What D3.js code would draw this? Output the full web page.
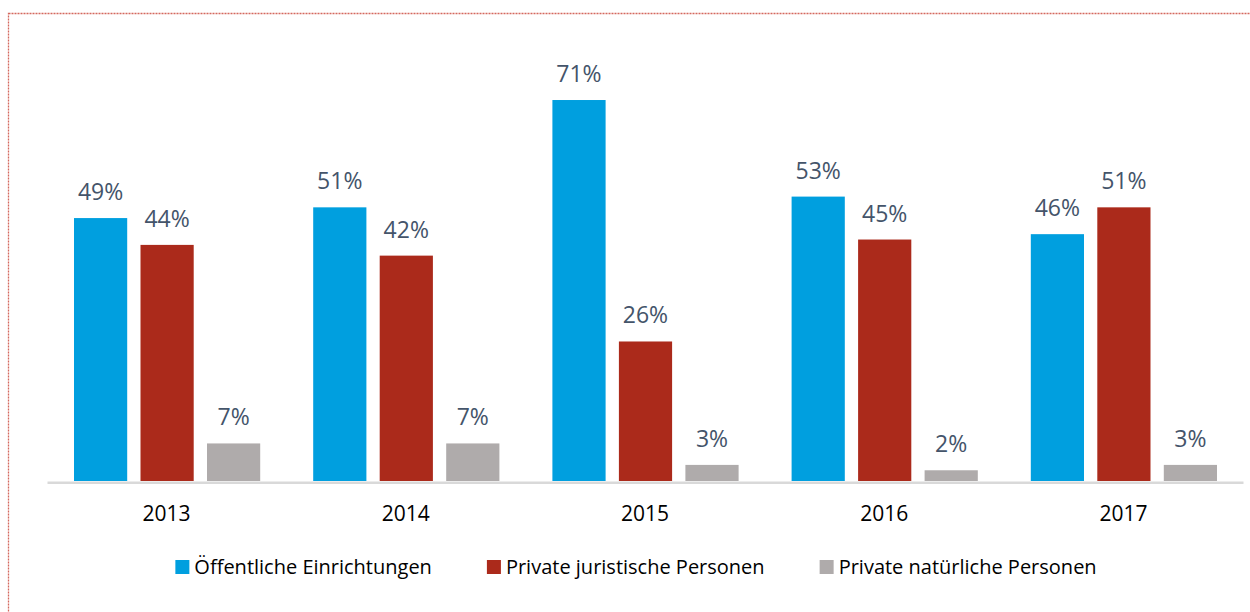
<!DOCTYPE html>
<html>
<head>
<meta charset="utf-8">
<script src="https://cdn.jsdelivr.net/npm/d3@7"></script>
<style>
  html, body { margin: 0; padding: 0; background: #fff; }
  svg { display: block; }
</style>
</head>
<body>
<div id="chart"></div>
<script>
// data
var years = ["2013", "2014", "2015", "2016", "2017"]
var seriesNames = ["Öffentliche Einrichtungen", "Private juristische Personen", "Private natürliche Personen"]
var oeffentlich = [49, 51, 71, 53, 46]
var juristisch = [44, 42, 26, 45, 51]
var natuerlich = [7, 7, 3, 2, 3]
var seriesColors = ["#009fdf", "#ab2a1b", "#afabab"]

var svgWidth = 1250
var svgHeight = 612
var margin = { top: 51, right: 7, bottom: 131, left: 47 }
var width = svgWidth - margin.left - margin.right
var height = svgHeight - margin.top - margin.bottom

var series = [oeffentlich, juristisch, natuerlich]
var data = years.map(function(y, i) {
    return { year: y, values: series.map(function(s, k) { return { key: k, value: s[i] } }) }
})

var svg = d3.select("#chart").append("svg")
    .attr("width", svgWidth)
    .attr("height", svgHeight)
    .style("font-family", "'Open Sans', sans-serif")

// dotted frame
svg.append("rect")
    .attr("x", 8.5).attr("y", 13.5)
    .attr("width", 1300).attr("height", 700)
    .attr("fill", "none")
    .attr("stroke", "#d4685e")
    .attr("stroke-width", 1.3)
    .attr("stroke-dasharray", "2,1")

var chart = svg.append("g")
    .attr("transform", "translate(" + margin.left + "," + margin.top + ")")

var x0 = d3.scaleBand()
    .range([0, width])
    .domain(years)
    .padding(0)

var x1 = d3.scaleBand()
    .domain([0, 1, 2])
    .range([27, x0.bandwidth() - 26])
    .paddingInner(0.2)

var y = d3.scaleLinear()
    .domain([0, 80])
    .range([height, height - 80 * 5.366])

var groups = chart.selectAll("g.group").data(data)
    .enter().append("g").attr("class", "group")
    .attr("transform", function(d) { return "translate(" + x0(d.year) + ",0)" })

groups.selectAll("rect").data(function(d) { return d.values })
    .enter().append("rect")
    .attr("x", function(d) { return x1(d.key) })
    .attr("width", x1.bandwidth())
    .attr("y", function(d) { return y(d.value) })
    .attr("height", function(d) { return height - y(d.value) })
    .attr("fill", function(d) { return seriesColors[d.key] })

groups.selectAll("text.label").data(function(d) { return d.values })
    .enter().append("text").attr("class", "label")
    .attr("x", function(d) { return x1(d.key) + x1.bandwidth() / 2 })
    .attr("y", function(d) { return y(d.value) - 18 })
    .attr("text-anchor", "middle")
    .style("font-size", "23px")
    .style("fill", "#44546a")
    .text(function(d) { return d.value + "%" })

// x axis
var xAxis = d3.axisBottom(x0).tickSize(0).tickPadding(25)
var gx = chart.append("g")
    .attr("class", "axis x")
    .attr("transform", "translate(0," + height + ")")
    .call(xAxis)
gx.select(".domain")
    .attr("stroke", "#d9d9d9")
    .attr("stroke-width", 2.5)
    .attr("transform", "translate(0,1.2)")
gx.selectAll("text")
    .style("font-size", "21px")
    .style("font-family", "'Open Sans', sans-serif")
    .style("fill", "#000")

// legend
var legend = svg.append("g").attr("class", "legend")
var items = legend.selectAll("g").data(seriesNames)
    .enter().append("g")
items.append("rect")
    .attr("width", 14).attr("height", 14)
    .attr("y", -7)
    .attr("fill", function(d, i) { return seriesColors[i] })
items.append("text")
    .attr("x", 19)
    .attr("y", 7)
    .style("font-size", "20px")
    .style("fill", "#000")
    .text(function(d) { return d })

var offset = 0
items.each(function() {
    var g = d3.select(this)
    g.attr("transform", "translate(" + offset + ",0)")
    offset += 19 + g.select("text").node().getComputedTextLength() + 55
})
var legendWidth = offset - 55
legend.attr("transform", "translate(" + (636 - legendWidth / 2) + ",567)")
</script>
</body>
</html>
